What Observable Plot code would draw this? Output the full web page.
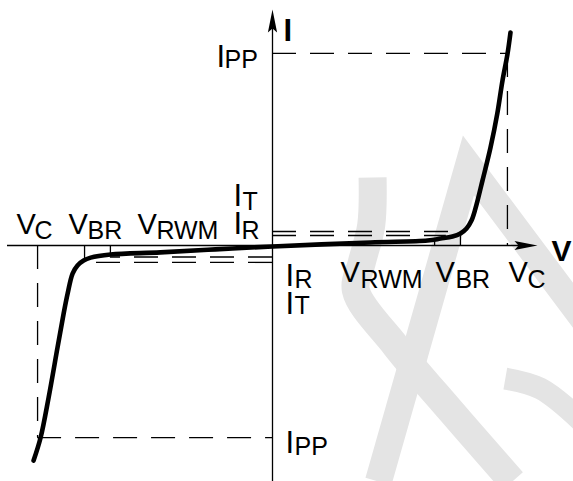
<!DOCTYPE html>
<html>
<head>
<meta charset="utf-8">
<script src="https://cdn.jsdelivr.net/npm/d3@7"></script>
<script src="https://cdn.jsdelivr.net/npm/@observablehq/plot@0.6"></script>
<style>
  html, body { margin: 0; padding: 0; background: #fff; }
  svg { display: block; }
</style>
</head>
<body>
<script>
// ---------- data (arbitrary units: V normalised so V_C = 10, I so I_PP = 10) ----------
const vNames  = ["RWM", "BR", "C"];
const vValues = [6.9, 8.0, 10.0];

const iNames  = ["R", "T", "PP"];
const iPos    = [0.52, 0.73, 10.0];   // forward-side currents (right)
const iNeg    = [-0.60, -0.88, -10.0]; // reverse-side currents (left)

// where the short current lines meet the curve
const iLineEndRight = [7.4, 8.0];
const iLineEndLeft  = [-6.9, -7.9];
// where the small voltage ticks meet the curve (for V_RWM, V_BR)
const tickEndRight = [0.34, 0.73];
const tickEndLeft  = [-0.47, -0.78];

// I–V characteristic
const curveV = [-10.17, -9.87, -9.53, -9.15, -8.89, -8.72, -8.51, -8.30, -8.04, -7.74, -6.89, -4.77, -2.43, 0.0,
                4.17, 6.60, 7.15, 7.66, 8.00, 8.26, 8.47, 8.64, 8.94, 9.28, 9.57, 9.79, 10.0, 10.13];
const curveI = [-11.20, -10.0, -7.92, -5.31, -3.54, -2.50, -1.46, -1.04, -0.78, -0.63, -0.47, -0.36, -0.20, -0.05,
                0.16, 0.26, 0.36, 0.47, 0.63, 0.89, 1.30, 1.93, 3.39, 5.10, 6.88, 8.59, 9.95, 11.09];

// axis extents
const vAxis = [-11.28, 11.28];
const iAxis = [-12.29, 12.29];

// watermark strokes (light grey background logo)
const wmA = [[4.26, 3.54], [4.20, 1.04], [3.80, -0.89], [3.55, -2.34], [5.23, -5.21], [7.57, -8.59], [10.21, -12.29]];
const wmB = [[4.51, -12.29], [8.34, 4.17], [13.53, -4.32]];
const wmC = [[9.91, -6.93], [11.40, -7.45], [13.11, -9.11]];

// ---------- marks ----------
const FONT = "Liberation Sans, Arial, Helvetica, sans-serif";
const dash = "24,14";
const thin = 1.3;

const curve = curveV.map((v, i) => ({v, i: curveI[i]}));
const toPts = a => a.map(([v, i]) => ({v, i}));

const arrowSymbol = {
  draw(ctx) {
    ctx.moveTo(0, 0);
    ctx.lineTo(4.6, 23);
    ctx.lineTo(0, 19);
    ctx.lineTo(-4.6, 23);
    ctx.closePath();
  }
};

const marks = [];

// watermark
marks.push(Plot.line(toPts(wmA), {x: "v", y: "i", stroke: "#e4e4e4", strokeWidth: 28, curve: "catmull-rom", strokeLinecap: "butt"}));
marks.push(Plot.line(toPts(wmB), {x: "v", y: "i", stroke: "#e4e4e4", strokeWidth: 27, strokeLinejoin: "miter", strokeMiterlimit: 10, strokeLinecap: "butt"}));
marks.push(Plot.line(toPts(wmC), {x: "v", y: "i", stroke: "#e4e4e4", strokeWidth: 22, curve: "catmull-rom", strokeLinecap: "butt"}));

// axes
marks.push(Plot.ruleY([0], {x1: vAxis[0], x2: vAxis[1] - 0.6, stroke: "black", strokeWidth: thin}));
marks.push(Plot.ruleX([0], {y1: iAxis[0], y2: iAxis[1] - 0.8, stroke: "black", strokeWidth: thin}));
marks.push(Plot.dot([{v: vAxis[1], i: 0}], {x: "v", y: "i", symbol: arrowSymbol, fill: "black", stroke: "none", rotate: 90}));
marks.push(Plot.dot([{v: 0, i: iAxis[1]}], {x: "v", y: "i", symbol: arrowSymbol, fill: "black", stroke: "none", rotate: 0}));

// I_PP dashed lines and V_C dashed verticals
const vc = vValues[2], ipp = iPos[2], ippN = iNeg[2];
marks.push(Plot.ruleY([ipp], {x1: 0, x2: vc, stroke: "black", strokeWidth: thin, strokeDasharray: dash}));
marks.push(Plot.ruleX([vc], {y1: ipp, y2: 0, stroke: "black", strokeWidth: thin, strokeDasharray: dash}));
marks.push(Plot.ruleY([ippN], {x1: -vc, x2: 0, stroke: "black", strokeWidth: thin, strokeDasharray: dash}));
marks.push(Plot.ruleX([-vc], {y1: 0, y2: ippN, stroke: "black", strokeWidth: thin, strokeDasharray: dash}));

// I_R / I_T dashed lines
for (let k = 0; k < 2; k++) {
  marks.push(Plot.ruleY([iPos[k]], {x1: 0, x2: iLineEndRight[k], stroke: "black", strokeWidth: thin, strokeDasharray: dash}));
  marks.push(Plot.ruleY([iNeg[k]], {x1: 0, x2: iLineEndLeft[k], stroke: "black", strokeWidth: thin, strokeDasharray: dash}));
}

// small voltage ticks (V_RWM, V_BR)
for (let k = 0; k < 2; k++) {
  marks.push(Plot.ruleX([vValues[k]], {y1: 0, y2: tickEndRight[k], stroke: "black", strokeWidth: thin}));
  marks.push(Plot.ruleX([-vValues[k]], {y1: 0, y2: tickEndLeft[k], stroke: "black", strokeWidth: thin}));
}

// characteristic curve
marks.push(Plot.line(curve, {x: "v", y: "i", stroke: "black", strokeWidth: 4.6, curve: "catmull-rom", strokeLinecap: "round", strokeLinejoin: "round"}));

// ---------- labels (main letter + subscript) ----------
function lab(main, sub, v, i, dxM, dyM, dxS, dyS) {
  const sizeM = main === "V" ? 29 : 31;
  marks.push(Plot.text([{v, i}], {x: "v", y: "i", text: () => main, dx: dxM, dy: dyM,
    textAnchor: "start", lineAnchor: "bottom", fontSize: sizeM, fontFamily: FONT, fill: "black"}));
  marks.push(Plot.text([{v, i}], {x: "v", y: "i", text: () => sub, dx: dxS, dy: dyS,
    textAnchor: "start", lineAnchor: "bottom", fontSize: 25, fontFamily: FONT, fill: "black"}));
}
// voltage labels, left (reverse) side
lab("V", vNames[2], -vValues[2], 0, -21, -12, -3, -7);
lab("V", vNames[1], -vValues[1], 0, -16, -12, 3, -7);
lab("V", vNames[0], -vValues[0], 0, 27, -12, 46, -7);
// voltage labels, right (forward) side
lab("V", vNames[0], vValues[0], 0, -94, 36, -74, 42);
lab("V", vNames[1], vValues[1], 0, -25, 36, -5, 42);
lab("V", vNames[2], vValues[2], 0, 1, 36, 20, 42);
// current labels
lab("I", iNames[1], 0, 0, -39, -40, -30, -36);
lab("I", iNames[0], 0, 0, -39, -12, -31, -7);
lab("I", iNames[0], 0, 0, 13, 40, 22, 42);
lab("I", iNames[1], 0, 0, 13, 68, 22, 68);
lab("I", iNames[2], 0, ipp, -56, 14, -48, 15);
lab("I", iNames[2], 0, ippN, 13, 15, 22, 17);

// axis titles
marks.push(Plot.text([{v: 0, i: iAxis[1]}], {x: "v", y: "i", text: () => "I", dx: 11, dy: 31,
  textAnchor: "start", lineAnchor: "bottom", fontSize: 31, fontWeight: "bold", fontFamily: FONT, fill: "black"}));
marks.push(Plot.text([{v: vAxis[1], i: 0}], {x: "v", y: "i", text: () => "V", dx: 14, dy: 15,
  textAnchor: "start", lineAnchor: "bottom", fontSize: 30, fontWeight: "bold", fontFamily: FONT, fill: "black"}));

const chart = Plot.plot({
  width: 573,
  height: 481,
  marginLeft: 7,
  marginRight: 36,
  marginTop: 9,
  marginBottom: 0,
  x: {domain: vAxis, axis: null},
  y: {domain: iAxis, axis: null},
  style: {background: "white", overflow: "hidden", fontFamily: FONT},
  marks
});
document.body.appendChild(chart);
</script>
</body>
</html>
